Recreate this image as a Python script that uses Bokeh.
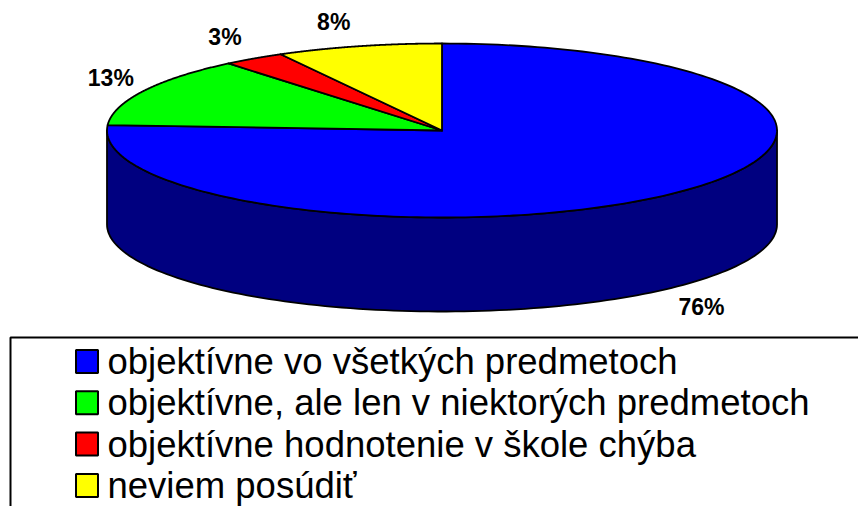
import numpy as np
from bokeh.plotting import figure
from bokeh.models import Range1d
from bokeh.embed import file_html
from bokeh.resources import INLINE
from bokeh.core.properties import value

# ---- data ----
categories = [
    "objektívne vo všetkých predmetoch",
    "objektívne, ale len v niektorých predmetoch",
    "objektívne hodnotenie v škole chýba",
    "neviem posúdiť",
]
percent = [76, 13, 3, 8]
colors = ["#0000FF", "#00FF00", "#FF0000", "#FFFF00"]
side_colors = ["#000080", "#008000", "#800000", "#808000"]

# ---- figure (1 data unit = 1 screen pixel, y downwards) ----
W, H = 858, 506
p = figure(width=W, height=H, x_range=Range1d(0, W), y_range=Range1d(H, 0),
           output_backend="svg", toolbar_location=None, min_border=0)
p.axis.visible = False
p.grid.visible = False
p.outline_line_color = None
p.background_fill_color = "white"
p.border_fill_color = "white"

# pie geometry
cx, cy, rx, ry, depth = 441.5, 130.0, 335.0, 87.0, 94.0
total = float(sum(percent))

def pt(theta_deg, dy=0.0):
    t = np.radians(theta_deg)
    return cx + rx * np.cos(t), cy - ry * np.sin(t) + dy

# slice angle spans (clockwise from 12 o'clock)
spans = []
a = 90.0
for v in percent:
    b = a - 360.0 * v / total
    spans.append((a, b))
    a = b

# side walls (only the front half is visible)
sx, sy, sc = [], [], []
for (a0, a1), col in zip(spans, side_colors):
    for k in range(-2, 2):
        lo = max(a1, 180 + 360 * k)
        hi = min(a0, 360 + 360 * k)
        if hi > lo:
            ts = np.linspace(lo, hi, 120)
            xt, yt = pt(ts)
            xb, yb = pt(ts[::-1], depth)
            sx.append(list(np.concatenate([xt, xb])))
            sy.append(list(np.concatenate([yt, yb])))
            sc.append(col)
p.patches(sx, sy, fill_color=sc, line_color="black", line_width=1.8, line_join="round")

# top faces
tx, ty = [], []
for (a0, a1) in spans:
    ts = np.linspace(a0, a1, 200)
    xs, ys = pt(ts)
    tx.append([cx] + list(xs))
    ty.append([cy] + list(ys))
p.patches(tx, ty, fill_color=colors, line_color="black", line_width=1.8, line_join="round")

# percentage labels, placed outside the rim along each slice's mid angle
lxs, lys, ltxt = [], [], []
for (a0, a1), v in zip(spans, percent):
    m = (a0 + a1) / 2.0
    c, s = np.cos(np.radians(m)), np.sin(np.radians(m))
    x0, y0 = pt(m, depth if s < 0 else 0.0)
    lxs.append(x0 + 12 * c + 22 * np.sign(c))
    lys.append(y0 - 22 * s - 3 * np.sign(s))
    ltxt.append(f"{v}%")
p.text(x=lxs, y=lys, text=ltxt,
       text_font=value("Liberation Sans"), text_font_style="bold",
       text_font_size="23px", text_color="black",
       text_align="center", text_baseline="middle")

# legend
p.quad(left=10, right=900, top=337, bottom=600, fill_color="white",
       line_color="black", line_width=2)
row0, drow = 361.0, 41.3
rows = [row0 + i * drow for i in range(len(categories))]
p.rect(x=[86.5] * len(rows), y=rows, width=22, height=23, fill_color=colors,
       line_color="black", line_width=2)
p.text(x=[107] * len(rows), y=rows, text=categories,
       text_font=value("Liberation Sans"), text_font_size="36.5px",
       text_color="black", text_align="left", text_baseline="middle")

open("out.html", "w").write(file_html(p, INLINE))
